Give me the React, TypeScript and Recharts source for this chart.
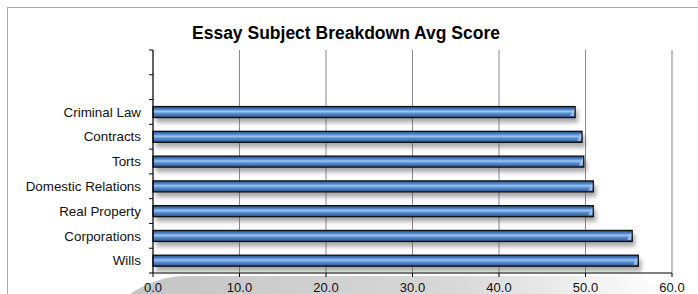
import React from 'react';
import { BarChart, Bar, XAxis, YAxis, CartesianGrid } from 'recharts';

const categories = ['', ' ', 'Criminal Law', 'Contracts', 'Torts', 'Domestic Relations', 'Real Property', 'Corporations', 'Wills'];
const avgScores = [null, null, 48.8, 49.6, 49.8, 50.9, 50.9, 55.4, 56.1];
const xTicks = [0, 10, 20, 30, 40, 50, 60];

const data = categories.map((name, i) => ({ name, score: avgScores[i] }));

const W = 698;
const H = 294;
const PLOT_TOP = 50;
const PLOT_BOTTOM = 273;
const BAND = (PLOT_BOTTOM - PLOT_TOP) / categories.length;
const FONT = '"Liberation Sans", Arial, sans-serif';

function CategoryTick(props: any) {
  const { x, y, payload, index } = props;
  const lx = x + 8;
  return (
    <g>
      <line x1={lx} x2={lx + 4} y1={y - BAND / 2} y2={y - BAND / 2} stroke="#000" />
      {index === categories.length - 1 && (
        <line x1={lx} x2={lx + 4} y1={y + BAND / 2} y2={y + BAND / 2} stroke="#000" />
      )}
      <text x={x} y={y} dy="0.35em" textAnchor="end" fontSize={13.4} fontFamily={FONT} fill="#111">
        {payload.value}
      </text>
    </g>
  );
}

function BevelBar(props: any) {
  const { x, y, width, height } = props;
  if (!width || width <= 0) return null;
  return (
    <g>
      <rect x={x + 3} y={y + 4} width={width} height={height + 1} fill="#555" opacity={0.5} filter="url(#barShadow)" />
      <rect x={x} y={y} width={width} height={height} fill="url(#barFill)" stroke="#111" strokeWidth={1.3} />
      <polygon
        points={`${x + width - 5},${y + height - 1.5} ${x + width - 1},${y + 1.5} ${x + width - 1},${y + height - 1.5}`}
        fill="#a9cdf3"
        opacity={0.8}
      />
    </g>
  );
}

export default function App() {
  return (
    <div style={{ position: 'absolute', left: 0, top: 0, width: W, height: H, background: '#fff', overflow: 'hidden' }}>
      <div style={{ position: 'absolute', left: 7, top: 7, width: W, height: H, border: '1px solid #aaa' }} />
      <svg width={W} height={H} style={{ position: 'absolute', left: 0, top: 0 }}>
        <defs>
          <linearGradient id="floor" x1="0" y1="0" x2="1" y2="0">
            <stop offset="0%" stopColor="#c4c4c4" />
            <stop offset="60%" stopColor="#d8d8d8" />
            <stop offset="100%" stopColor="#ffffff" />
          </linearGradient>
        </defs>
        <path d="M130,294 C142,286 160,277 182,276 L640,276 L668,294 Z" fill="url(#floor)" />
      </svg>
      <div
        style={{
          position: 'absolute',
          left: 0,
          top: 23,
          width: W - 6,
          textAlign: 'center',
          fontFamily: FONT,
          fontWeight: 'bold',
          fontSize: 17.5,
          lineHeight: 'normal',
          color: '#000',
        }}
      >
        Essay Subject Breakdown Avg Score
      </div>
      <div style={{ position: 'absolute', left: 0, top: 0 }}>
        <BarChart
          width={W}
          height={H}
          data={data}
          layout="vertical"
          margin={{ top: PLOT_TOP, right: 26, bottom: 0, left: 0 }}
          barSize={11}
        >
          <defs>
            <linearGradient id="barFill" x1="0" y1="0" x2="0" y2="1">
              <stop offset="0%" stopColor="#244a80" />
              <stop offset="25%" stopColor="#4f84cc" />
              <stop offset="45%" stopColor="#9cc6f2" />
              <stop offset="62%" stopColor="#5b90d6" />
              <stop offset="100%" stopColor="#2a4f86" />
            </linearGradient>
            <filter id="barShadow" x="-10%" y="-100%" width="120%" height="300%">
              <feGaussianBlur stdDeviation="2" />
            </filter>
          </defs>
          <CartesianGrid horizontal={false} stroke="#8a8a8a" />
          <XAxis
            type="number"
            domain={[0, 60]}
            ticks={xTicks}
            tickFormatter={(v: number) => v.toFixed(1)}
            tickSize={4}
            tickMargin={6}
            height={H - PLOT_BOTTOM}
            axisLine={{ stroke: '#000' }}
            tickLine={{ stroke: '#000' }}
            tick={{ fontSize: 13, fontFamily: FONT, fill: '#111' }}
          />
          <YAxis
            type="category"
            dataKey="name"
            width={153}
            tickSize={4}
            tickMargin={8}
            tickLine={false}
            axisLine={{ stroke: '#000' }}
            interval={0}
            tick={<CategoryTick />}
          />
          <Bar dataKey="score" shape={<BevelBar />} isAnimationActive={false} />
        </BarChart>
      </div>
    </div>
  );
}
